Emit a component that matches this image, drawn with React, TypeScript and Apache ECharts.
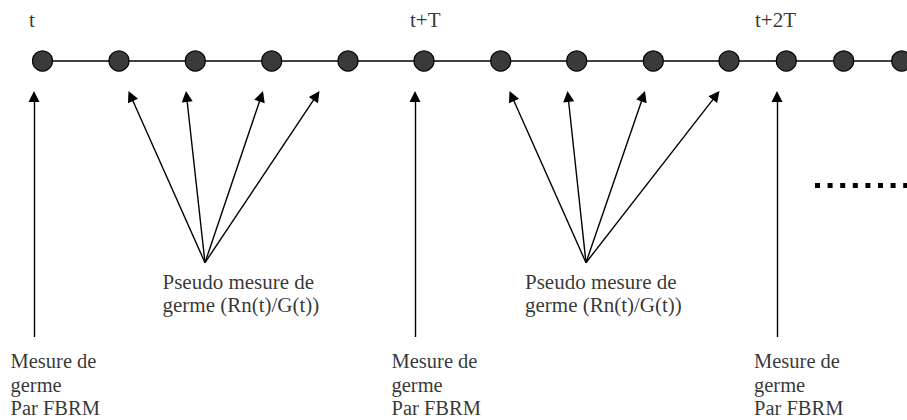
import React, { useEffect, useRef } from "react";
import * as echarts from "echarts";

const W = 907;
const H = 420;

// Timeline (pixel-unit axes)
const timeDotsX = [42.5, 119, 195.3, 271.7, 348, 424, 500.7, 576.7, 653.3, 729, 786.3, 843.7, 901.7];
const timeLineY = 61;
const timeLineStartX = 42.5;
const timeLineEndX = 907;

const periodLabels = ["t", "t+T", "t+2T"];
const periodLabelX = [29, 410, 755];
const periodLabelY = 9.1;

const fbrmArrowX = [34, 415, 777];
const fbrmArrowTopY = 91;
const fbrmArrowBottomY = 337;
const fbrmLabel = "Mesure de\ngerme\nPar FBRM";
const fbrmLabelX = [10.5, 391.5, 754];
const fbrmLabelY = 349.3;

const pseudoOriginX = [205, 586];
const pseudoOriginY = 262.7;
const pseudoTipsX = [
  [128.5, 186, 263, 319.5],
  [509.5, 567.5, 645, 719.5],
];
const pseudoTipY = 91;
const pseudoLabel = "Pseudo mesure de\ngerme (Rn(t)/G(t))";
const pseudoLabelX = [162.5, 525];
const pseudoLabelY = 270.4;

const continuationX = [815, 907];
const continuationY = 185;

const HEAD = 11;
const FONT = "'Liberation Serif', 'Times New Roman', serif";

function arrowCoords(x1: number, y1: number, x2: number, y2: number) {
  const dx = x2 - x1;
  const dy = y2 - y1;
  const len = Math.sqrt(dx * dx + dy * dy);
  return [
    [x1, y1],
    [x2 - (dx / len) * (HEAD / 2), y2 - (dy / len) * (HEAD / 2)],
  ];
}

export default function App() {
  const ref = useRef<HTMLDivElement>(null);

  useEffect(() => {
    if (!ref.current) return;
    const chart = echarts.init(ref.current, undefined, { renderer: "svg" });

    const arrowData: any[] = [];
    fbrmArrowX.forEach((x) => {
      arrowData.push({ coords: arrowCoords(x, fbrmArrowBottomY, x, fbrmArrowTopY) });
    });
    pseudoOriginX.forEach((ox, i) => {
      pseudoTipsX[i].forEach((tx) => {
        arrowData.push({ coords: arrowCoords(ox, pseudoOriginY, tx, pseudoTipY) });
      });
    });

    const textItem = (x: number, y: number, text: string, fs: number, lh: number) => ({
      value: [x, y],
      label: {
        show: true,
        formatter: text,
        position: [0, 0],
        align: "left",
        verticalAlign: "top",
        fontSize: fs,
        lineHeight: lh,
        fontFamily: FONT,
        color: "#000",
      },
    });

    const textData: any[] = [];
    periodLabels.forEach((t, i) => textData.push(textItem(periodLabelX[i], periodLabelY, t, 21, 21)));
    fbrmLabelX.forEach((x) => textData.push(textItem(x, fbrmLabelY, fbrmLabel, 20.5, 23.5)));
    pseudoLabelX.forEach((x) => textData.push(textItem(x, pseudoLabelY, pseudoLabel, 21, 23.3)));

    chart.setOption({
      animation: false,
      grid: { left: 0, right: 0, top: 0, bottom: 0 },
      xAxis: { type: "value", min: 0, max: W, show: false },
      yAxis: { type: "value", min: 0, max: H, inverse: true, show: false },
      series: [
        {
          type: "lines",
          coordinateSystem: "cartesian2d",
          symbol: ["none", "none"],
          lineStyle: { color: "#000", width: 1.5, opacity: 1 },
          data: [{ coords: [[timeLineStartX, timeLineY], [timeLineEndX, timeLineY]] }],
          z: 1,
        },
        {
          type: "lines",
          coordinateSystem: "cartesian2d",
          symbol: ["none", "none"],
          lineStyle: { color: "#000", width: 5, type: [5, 7.6], opacity: 1 },
          data: [{ coords: [[continuationX[0], continuationY], [continuationX[1], continuationY]] }],
          z: 1,
        },
        {
          type: "lines",
          coordinateSystem: "cartesian2d",
          symbol: ["none", "triangle"],
          symbolSize: HEAD,
          lineStyle: { color: "#000", width: 1.4, opacity: 1 },
          itemStyle: { color: "#000" },
          data: arrowData,
          z: 2,
        },
        {
          type: "scatter",
          symbol: "circle",
          symbolSize: 20,
          itemStyle: { color: "#3a3a3a", borderColor: "#000", borderWidth: 1.2, opacity: 1 },
          data: timeDotsX.map((x) => [x, timeLineY]),
          z: 3,
        },
        {
          type: "scatter",
          symbolSize: 0,
          itemStyle: { color: "transparent" },
          data: textData,
          z: 4,
        },
      ],
    });

    return () => chart.dispose();
  }, []);

  return (
    <div
      ref={ref}
      style={{ position: "fixed", left: 0, top: 0, width: W, height: H, background: "#fff" }}
    />
  );
}
